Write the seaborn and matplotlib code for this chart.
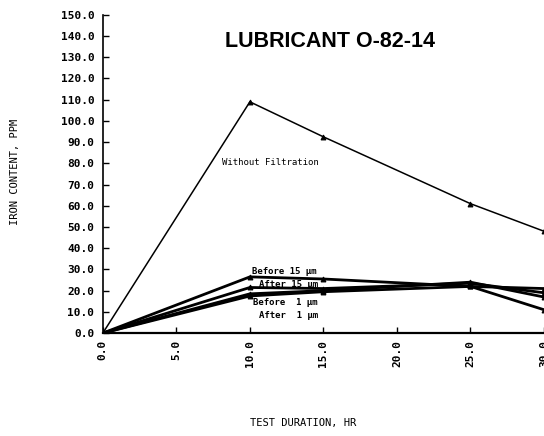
"""
LUBRICANT O-82-14 : iron content vs test duration
"""

import matplotlib
matplotlib.use('Agg')
import matplotlib.pyplot as plt
import seaborn as sns
import pandas as pd

# data
hours = [0, 10, 15, 25, 30]
without_filtration = [0, 109, 92.5, 61, 48]
before_15um = [0, 26.5, 25.5, 22, 21]
after_15um = [0, 21.5, 21, 23.5, 19]
before_1um = [0, 18.5, 20, 24, 17]
after_1um = [0, 17.5, 19.5, 22, 11]

x_ticks = [0, 5, 10, 15, 20, 25, 30]
y_ticks = list(range(0, 151, 10))

sns.set_style('ticks')
plt.rcParams['font.family'] = ['DejaVu Sans Mono', 'DejaVu Sans']
plt.rcParams['text.color'] = 'black'
plt.rcParams['xtick.color'] = 'black'
plt.rcParams['ytick.color'] = 'black'

fig = plt.figure(figsize=(5.44, 4.36), dpi=100)
ax = fig.add_axes([0.189, 0.236, 0.811, 0.730])

mono = 'DejaVu Sans Mono'

# without filtration - thin line
sns.lineplot(x=hours, y=without_filtration, ax=ax, color='black', linewidth=1.1,
             marker='^', markersize=3.5, markeredgecolor='black')

# filtered series - thicker lines
for vals in [before_15um, after_15um, before_1um, after_1um]:
    sns.lineplot(x=hours, y=vals, ax=ax, color='black', linewidth=2.0,
                 marker='^', markersize=3.5, markeredgecolor='black')

ax.set_xlim(0, 30)
ax.set_ylim(0, 150)
ax.set_xticks(x_ticks)
ax.set_xticklabels([f'{v:.1f}' for v in x_ticks], rotation=90,
                   fontsize=8, fontweight='bold', family=mono)
ax.set_yticks(y_ticks)
ax.set_yticklabels([f'{v:.1f}' for v in y_ticks],
                   fontsize=8, fontweight='bold', family=mono)
ax.tick_params(axis='both', direction='in', length=4, width=1, color='black')
ax.tick_params(axis='y', pad=6)
ax.tick_params(axis='x', pad=5)

sns.despine(ax=ax, top=True, right=True)
ax.spines['left'].set_linewidth(1.2)
ax.spines['bottom'].set_linewidth(1.6)
ax.spines['left'].set_color('black')
ax.spines['bottom'].set_color('black')

# curve labels
ax.text(8.1, 80.2, 'Without Filtration', fontsize=6.5, family=mono, va='center')
ax.text(10.15, 29.2, 'Before 15 µm', fontsize=6.5, family=mono, va='center', fontweight='bold')
ax.text(10.6, 23.1, 'After 15 µm', fontsize=6.5, family=mono, va='center', fontweight='bold')
ax.text(10.2, 14.6, 'Before  1 µm', fontsize=6.5, family=mono, va='center', fontweight='bold')
ax.text(10.6, 8.5, 'After  1 µm', fontsize=6.5, family=mono, va='center', fontweight='bold')

# title and axis labels
fig.text(0.607, 0.904, 'LUBRICANT O-82-14', ha='center', va='center',
         fontsize=15.5, fontweight='bold', family='Liberation Sans', color='black')
fig.text(0.028, 0.605, 'IRON CONTENT, PPM', rotation=90, ha='center', va='center',
         fontsize=7.5, family=mono)
fig.text(0.557, 0.030, 'TEST DURATION, HR', ha='center', va='center',
         fontsize=7.5, family=mono)

plt.savefig('out.png', dpi=100)
plt.close()
